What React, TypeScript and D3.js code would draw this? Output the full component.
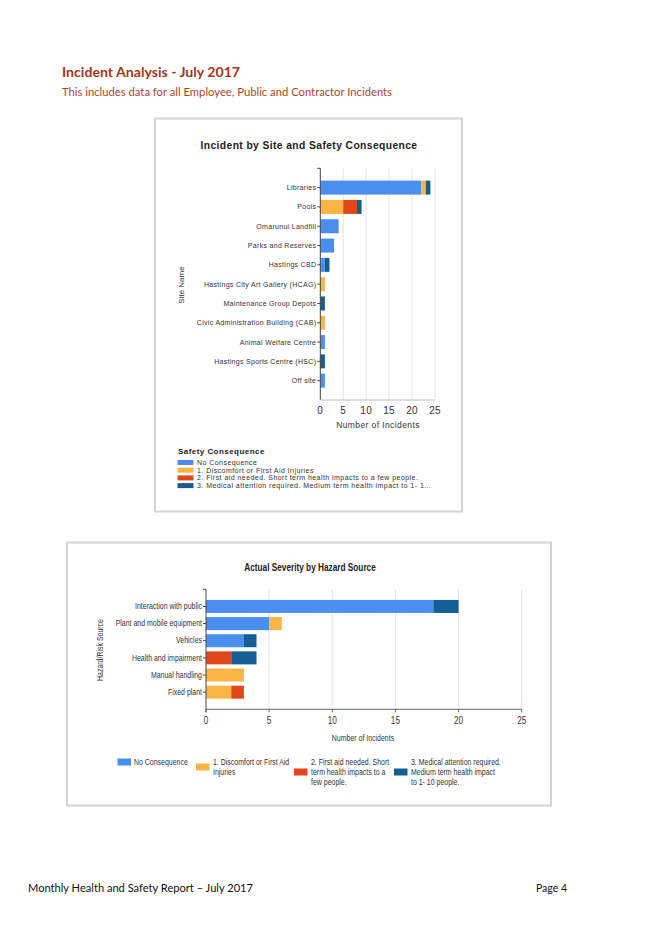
import React from "react";
import * as d3 from "d3";

const consequenceKeys = ["none", "discomfort", "firstAid", "medical"];
const consequenceColors = ["#4a8fef", "#fbb545", "#e2461b", "#135f95"];

const sites = [
  "Libraries",
  "Pools",
  "Omarunui Landfill",
  "Parks and Reserves",
  "Hastings CBD",
  "Hastings City Art Gallery (HCAG)",
  "Maintenance Group Depots",
  "Civic Administration Building (CAB)",
  "Animal Welfare Centre",
  "Hastings Sports Centre (HSC)",
  "Off site",
];
const siteNone = [22, 0, 4, 3, 1, 0, 0, 0, 1, 0, 1];
const siteDiscomfort = [1, 5, 0, 0, 0, 1, 0, 1, 0, 0, 0];
const siteFirstAid = [0, 3, 0, 0, 0, 0, 0, 0, 0, 0, 0];
const siteMedical = [1, 1, 0, 0, 1, 0, 1, 0, 0, 1, 0];

const hazards = [
  "Interaction with public",
  "Plant and mobile equipment",
  "Vehicles",
  "Health and impairment",
  "Manual handling",
  "Fixed plant",
];
const hazNone = [18, 5, 3, 0, 0, 0];
const hazDiscomfort = [0, 1, 0, 0, 3, 2];
const hazFirstAid = [0, 0, 0, 2, 0, 1];
const hazMedical = [2, 0, 1, 2, 0, 0];

const xTicks = [0, 5, 10, 15, 20, 25];

const topLegend = [
  "No Consequence",
  "1. Discomfort or First Aid Injuries",
  "2. First aid needed. Short term health impacts to a few people.",
  "3. Medical attention required. Medium term health impact to 1- 1...",
];
const bottomLegend = [
  ["No Consequence"],
  ["1. Discomfort or First Aid", "Injuries"],
  ["2. First aid needed. Short", "term health impacts to a", "few people."],
  ["3. Medical attention required.", "Medium term health impact", "to 1- 10 people."],
];

const SANS = "'Liberation Sans', Arial, sans-serif";
const TITLE_FONT = "Lato, 'Open Sans', sans-serif";

function buildRows(cats: string[], a: number[], b: number[], c: number[], d: number[]) {
  return cats.map((cat, i) => ({ cat, none: a[i], discomfort: b[i], firstAid: c[i], medical: d[i] }));
}

// narrow text helper (compressed Liberation Sans)
function NText(props: any) {
  const { x, y, children, sx = 0.82, anchor = "start", size = 8, weight = "normal", fill = "#333", rotate = 0 } = props;
  return (
    <g transform={`translate(${x},${y}) rotate(${rotate}) scale(${sx},1)`}>
      <text x={0} y={0} textAnchor={anchor} dominantBaseline="central" fontFamily={SANS} fontSize={size} fontWeight={weight} fill={fill}>
        {children}
      </text>
    </g>
  );
}

function TopChart() {
  const rows = buildRows(sites, siteNone, siteDiscomfort, siteFirstAid, siteMedical);
  const stack = d3.stack<any>().keys(consequenceKeys)(rows as any);
  const x = d3.scaleLinear().domain([0, 25]).range([320.3, 435]);
  const y = d3.scalePoint<string>().domain(sites).range([168.3, 400]).padding(1);
  const bh = 14;
  const y0 = 168.3, y1 = 400;
  return (
    <g>
      <rect x={156} y={119.5} width={307} height={393} fill="#eee" opacity={0.6} />
      <rect x={155} y={118.5} width={307} height={393} fill="#fff" stroke="#d4d4d4" strokeWidth={2} />
      <text x={309} y={145} textAnchor="middle" dominantBaseline="central" fontFamily={SANS} fontSize={10.3} fontWeight="bold" fill="#222" letterSpacing={0.4}>
        Incident by Site and Safety Consequence
      </text>
      {xTicks.slice(1).map((t) => (
        <line key={t} x1={x(t)} x2={x(t)} y1={y0} y2={y1} stroke="#e4e4e4" strokeWidth={1} />
      ))}
      {stack.map((layer, li) =>
        layer.map((seg: any, i: number) =>
          seg[1] - seg[0] > 0 ? (
            <rect key={`${li}-${i}`} x={x(seg[0])} width={x(seg[1]) - x(seg[0])} y={(y(sites[i]) as number) - bh / 2} height={bh} fill={consequenceColors[li]} />
          ) : null
        )
      )}
      <line x1={x(0)} x2={x(0)} y1={y0} y2={y1} stroke="#444" strokeWidth={1} />
      <line x1={x(0) - 3} x2={x(0)} y1={y0} y2={y0} stroke="#444" strokeWidth={1} />
      <line x1={x(0)} x2={x(25)} y1={y1} y2={y1} stroke="#bbb" strokeWidth={1} />
      {sites.map((s) => (
        <g key={s}>
          <line x1={x(0) - 3} x2={x(0)} y1={y(s)} y2={y(s)} stroke="#444" strokeWidth={1} />
          <text x={x(0) - 4} y={y(s)} textAnchor="end" dominantBaseline="central" fontFamily={SANS} fontSize={7} fill="#333" letterSpacing={0.3}>
            {s}
          </text>
        </g>
      ))}
      {xTicks.map((t) => (
        <text key={t} x={x(t)} y={410} textAnchor="middle" dominantBaseline="central" fontFamily={SANS} fontSize={10} fill="#333" letterSpacing={0.3}>
          {t}
        </text>
      ))}
      <text x={378} y={425} textAnchor="middle" dominantBaseline="central" fontFamily={SANS} fontSize={8.5} fill="#333" letterSpacing={0.4}>
        Number of Incidents
      </text>
      <text transform={`translate(181,285) rotate(-90)`} textAnchor="middle" dominantBaseline="central" fontFamily={SANS} fontSize={8} fill="#333">
        Site Name
      </text>
      <text x={178} y={451.5} dominantBaseline="central" fontFamily={SANS} fontSize={8} fontWeight="bold" fill="#222" letterSpacing={0.45}>
        Safety Consequence
      </text>
      {topLegend.map((l, i) => (
        <g key={l}>
          <rect x={177.5} y={460 + i * 7.7} width={16} height={5} fill={consequenceColors[i]} />
          <text x={197} y={462.5 + i * 7.7} dominantBaseline="central" fontFamily={SANS} fontSize={7} fill="#333" letterSpacing={0.45}>
            {l}
          </text>
        </g>
      ))}
    </g>
  );
}

function BottomChart() {
  const rows = buildRows(hazards, hazNone, hazDiscomfort, hazFirstAid, hazMedical);
  const stack = d3.stack<any>().keys(consequenceKeys)(rows as any);
  const x = d3.scaleLinear().domain([0, 25]).range([206, 521.7]);
  const y = d3.scalePoint<string>().domain(hazards).range([589.3, 709.3]).padding(1);
  const bh = 13;
  const y0 = 589.3, y1 = 709.3;
  const legendX = [117.5, 196, 294, 394];
  const legendTextX = [134, 213, 311, 411];
  return (
    <g>
      <rect x={68} y={543.5} width={484} height={263} fill="#eee" opacity={0.6} />
      <rect x={67} y={542.5} width={484} height={263} fill="#fff" stroke="#d4d4d4" strokeWidth={2} />
      <NText x={310} y={567} anchor="middle" size={11} weight="bold" fill="#222" sx={0.75}>
        Actual Severity by Hazard Source
      </NText>
      {xTicks.slice(1).map((t) => (
        <line key={t} x1={x(t)} x2={x(t)} y1={y0} y2={y1} stroke="#e4e4e4" strokeWidth={1} />
      ))}
      {stack.map((layer, li) =>
        layer.map((seg: any, i: number) =>
          seg[1] - seg[0] > 0 ? (
            <rect key={`${li}-${i}`} x={x(seg[0])} width={x(seg[1]) - x(seg[0])} y={(y(hazards[i]) as number) - bh / 2} height={bh} fill={consequenceColors[li]} />
          ) : null
        )
      )}
      <line x1={x(0)} x2={x(0)} y1={y0} y2={y1 + 3} stroke="#444" strokeWidth={1} />
      <line x1={x(0) - 3} x2={x(0)} y1={y0} y2={y0} stroke="#444" strokeWidth={1} />
      <line x1={x(0)} x2={x(25)} y1={y1} y2={y1} stroke="#666" strokeWidth={1} />
      {xTicks.map((t) => (
        <g key={t}>
          <line x1={x(t)} x2={x(t)} y1={y1} y2={y1 + 3} stroke="#666" strokeWidth={1} />
          <NText x={x(t)} y={721} anchor="middle" size={10} fill="#333">
            {t}
          </NText>
        </g>
      ))}
      {hazards.map((h) => (
        <g key={h}>
          <line x1={x(0) - 3} x2={x(0)} y1={y(h)} y2={y(h)} stroke="#444" strokeWidth={1} />
          <NText x={x(0) - 4} y={y(h)} anchor="end" size={8.5} fill="#333">
            {h}
          </NText>
        </g>
      ))}
      <NText x={363} y={738} anchor="middle" size={8.5} fill="#333">
        Number of Incidents
      </NText>
      <NText x={100} y={650} anchor="middle" size={8.5} fill="#333" rotate={-90}>
        Hazard/Risk Source
      </NText>
      {bottomLegend.map((lines, i) => {
        const top = 762;
        const mid = top + ((lines.length - 1) * 10) / 2;
        return (
          <g key={i}>
            <rect x={legendX[i]} y={mid - 3.5} width={13.5} height={7} fill={consequenceColors[i]} />
            {lines.map((ln, j) => (
              <NText key={j} x={legendTextX[i]} y={top + j * 10} size={8.5} fill="#333">
                {ln}
              </NText>
            ))}
          </g>
        );
      })}
    </g>
  );
}

export default function App() {
  return (
    <svg width={656} height={928} style={{ position: "absolute", left: 0, top: 0, background: "#fff" }}>
      <rect x={0} y={0} width={656} height={928} fill="#fff" />
      <text x={62} y={72} dominantBaseline="central" fontFamily={TITLE_FONT} fontSize={13.5} fontWeight="bold" fill="#a0361a" textLength={178} lengthAdjust="spacingAndGlyphs">
        Incident Analysis - July 2017
      </text>
      <text x={62} y={92} dominantBaseline="central" fontFamily={TITLE_FONT} fontSize={10.5} fill="#b0452a" textLength={330} lengthAdjust="spacingAndGlyphs">
        This includes data for all Employee, Public and Contractor Incidents
      </text>
      <TopChart />
      <BottomChart />
      <text x={28} y={887} dominantBaseline="central" fontFamily={TITLE_FONT} fontSize={11} fill="#111" textLength={225} lengthAdjust="spacingAndGlyphs">
        Monthly Health and Safety Report – July 2017
      </text>
      <text x={536} y={887} dominantBaseline="central" fontFamily={TITLE_FONT} fontSize={11} fill="#111" textLength={31} lengthAdjust="spacingAndGlyphs">
        Page 4
      </text>
    </svg>
  );
}
